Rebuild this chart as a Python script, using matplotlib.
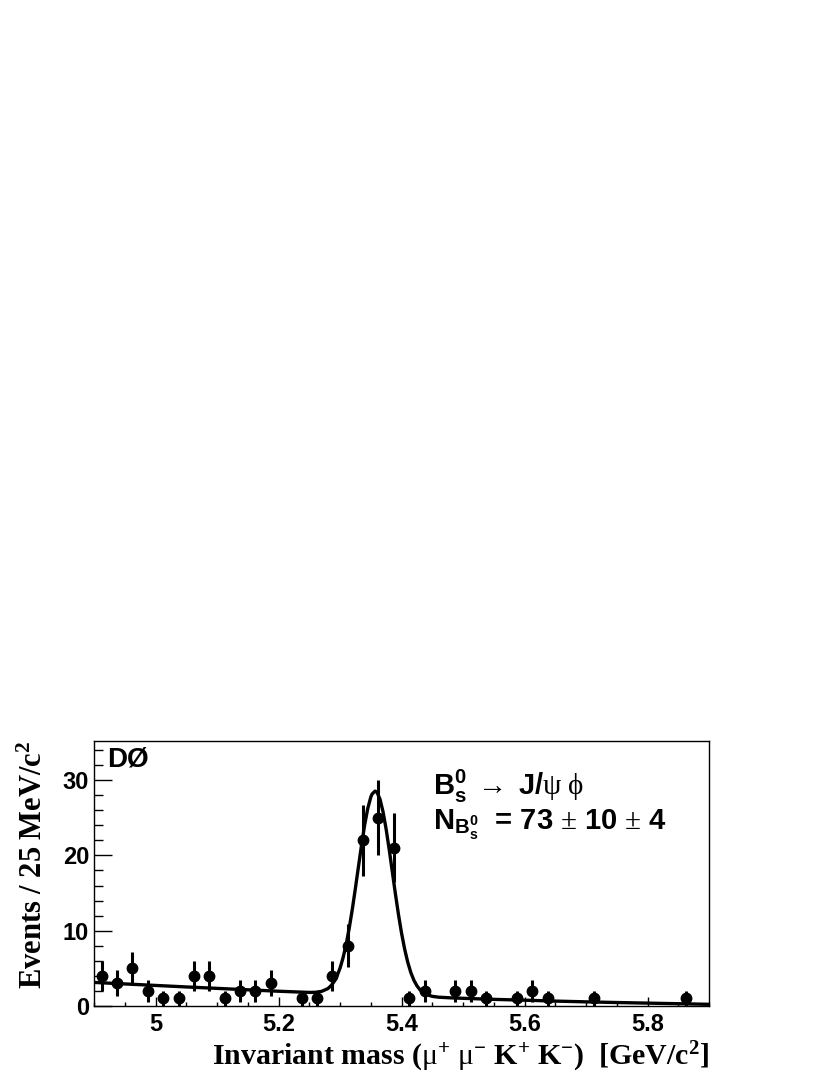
import numpy as np
import matplotlib
matplotlib.use('Agg')
import matplotlib.pyplot as plt
from matplotlib.ticker import MultipleLocator

plt.rcParams.update({
    'mathtext.fontset': 'custom',
    'mathtext.rm': 'Liberation Serif',
    'mathtext.it': 'Liberation Serif:italic',
    'mathtext.bf': 'Liberation Serif:bold',
    'mathtext.sf': 'Liberation Sans:bold',
    'mathtext.default': 'regular',
})

# data: B_s -> J/psi phi candidates, 25 MeV bins (empty bins omitted)
mass_bins = [4.9125, 4.9375, 4.9625, 4.9875, 5.0125, 5.0375, 5.0625, 5.0875,
             5.1125, 5.1375, 5.1625, 5.1875, 5.2375, 5.2625, 5.2875, 5.3125,
             5.3375, 5.3625, 5.3875, 5.4125, 5.4375, 5.4875, 5.5125, 5.5375,
             5.5875, 5.6125, 5.6375, 5.7125, 5.8625]
counts = [4, 3, 5, 2, 1, 1, 4, 4,
          1, 2, 2, 3, 1, 1, 4, 8,
          22, 25, 21, 1, 2, 2, 2, 1,
          1, 2, 1, 1, 1]
errors = np.sqrt(counts)

# fit curve (signal + background)
fit_x = [4.90, 4.95, 5.00, 5.05, 5.10, 5.15, 5.20, 5.25, 5.26, 5.27, 5.28,
         5.285, 5.29, 5.295, 5.30, 5.305, 5.31, 5.315, 5.32, 5.325, 5.33,
         5.335, 5.34, 5.345, 5.35, 5.352, 5.357, 5.36, 5.365, 5.37, 5.375,
         5.38, 5.385, 5.39, 5.395, 5.40, 5.405, 5.41, 5.415, 5.42, 5.425,
         5.43, 5.435, 5.44, 5.45, 5.46, 5.48, 5.50, 5.55,
         5.60, 5.65, 5.70, 5.75, 5.80, 5.85, 5.90]
fit_y = [3.13, 2.93, 2.73, 2.53, 2.34, 2.15, 1.96, 1.80, 1.82, 1.94, 2.30,
         2.66, 3.20, 3.97, 5.03, 6.44, 8.22, 10.38, 12.88, 15.66, 18.55,
         21.42, 24.05, 26.22, 27.75, 28.14, 28.55, 28.40, 27.46, 25.75, 23.45,
         20.74, 17.82, 14.89, 12.14, 9.67, 7.57, 5.83, 4.46, 3.43, 2.68,
         2.15, 1.78, 1.54, 1.28, 1.17, 1.08, 1.02, 0.88,
         0.77, 0.65, 0.55, 0.46, 0.38, 0.30, 0.22]

fig = plt.figure(figsize=(8.3, 10.75), dpi=100)
ax = fig.add_axes([0.1133, 0.0642, 0.7410, 0.2465])

ax.plot(fit_x, fit_y, color='black', lw=2.4, zorder=2, solid_joinstyle='round')
ax.errorbar(mass_bins, counts, yerr=errors, fmt='o', color='black',
            ms=7.5, elinewidth=2.2, capsize=0, zorder=3)

ax.set_xlim(4.9, 5.9)
ax.set_ylim(0, 35.2)
ax.xaxis.set_minor_locator(MultipleLocator(0.05))
ax.yaxis.set_major_locator(MultipleLocator(10))
ax.yaxis.set_minor_locator(MultipleLocator(2))
ax.set_xticks([5.0, 5.2, 5.4, 5.6, 5.8])
ax.set_xticklabels(['5', '5.2', '5.4', '5.6', '5.8'])
ax.tick_params(axis='both', which='both', direction='in', top=False, right=False)
ax.tick_params(axis='y', which='major', length=12.7, width=1, pad=3.5)
ax.tick_params(axis='y', which='minor', length=6.3, width=1)
ax.tick_params(axis='x', which='major', length=6.5, width=1, pad=5)
ax.tick_params(axis='x', which='minor', length=3.2, width=1)
for lab in ax.get_xticklabels() + ax.get_yticklabels():
    lab.set_family('Liberation Sans')
    lab.set_weight('bold')
    lab.set_fontsize(17)
for s in ax.spines.values():
    s.set_linewidth(1.0)

ax.set_xlabel(r'Invariant mass ($\mathrm{\mu}^{+}$ $\mathrm{\mu}^{-}$ K$^{+}$ K$^{-}$)  [GeV/c$^{2}$]',
              family='Liberation Serif', weight='bold', fontsize=21.5, loc='right', labelpad=2.5)
ax.set_ylabel(r'Events / 25 MeV/c$^{2}$', family='Liberation Serif', weight='bold',
              fontsize=22, loc='top', labelpad=10)

ax.text(0.021, 0.903, 'DØ', transform=ax.transAxes, family='Liberation Sans',
        weight='bold', fontsize=20, va='baseline')
ax.text(0.551, 0.796, r'$B_{s}^{0}\ \mathsf{\rightarrow}\ J/\mathrm{\psi}\ \mathrm{\phi}$',
        transform=ax.transAxes, family='Liberation Sans', weight='bold',
        fontsize=21, va='baseline')
ax.text(0.551, 0.664, r'$N_{B_{s}^{0}}$  = 73 $\mathrm{\pm}$ 10 $\mathrm{\pm}$ 4',
        transform=ax.transAxes, family='Liberation Sans', weight='bold',
        fontsize=21, va='baseline')

fig.savefig('out.png', dpi=100)
